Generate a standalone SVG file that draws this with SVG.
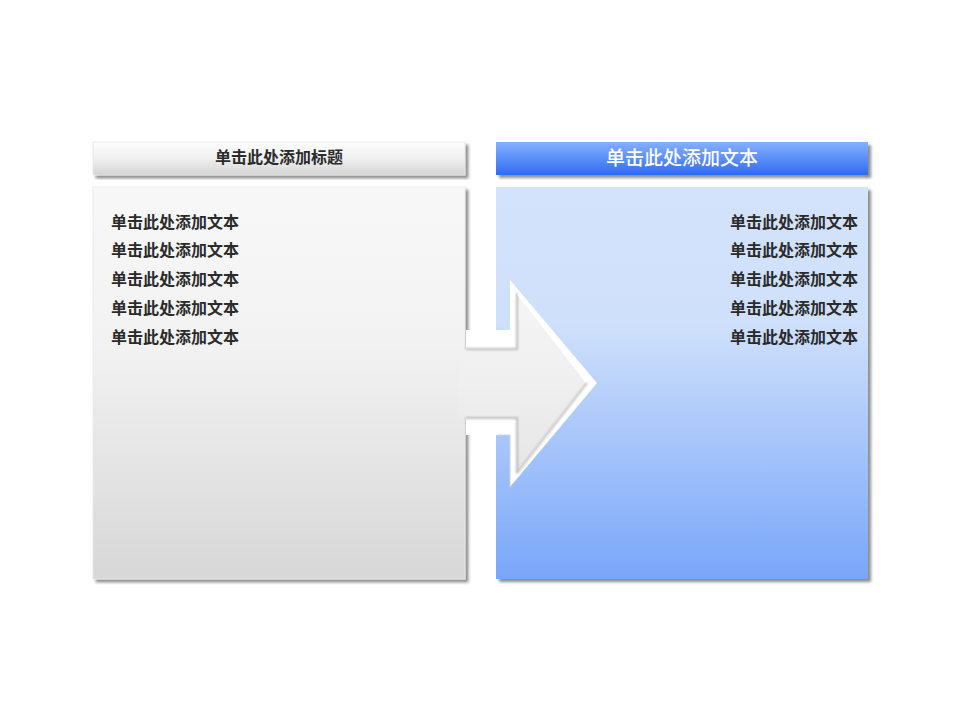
<svg xmlns="http://www.w3.org/2000/svg" width="960" height="720" viewBox="0 0 960 720">
<defs>
<linearGradient id="gHdrL" x1="0" y1="0" x2="0" y2="1"><stop offset="0" stop-color="#fdfdfd"/><stop offset="0.5" stop-color="#f0f0f0"/><stop offset="1" stop-color="#d4d4d4"/></linearGradient>
<linearGradient id="gHdrR" x1="0" y1="0" x2="0" y2="1"><stop offset="0" stop-color="#86b0ff"/><stop offset="0.5" stop-color="#5b8ff8"/><stop offset="1" stop-color="#2f6cf0"/></linearGradient>
<linearGradient id="gBodyL" x1="0" y1="187" x2="0" y2="579" gradientUnits="userSpaceOnUse"><stop offset="0" stop-color="#f8f8f8"/><stop offset="0.4" stop-color="#f2f2f2"/><stop offset="1" stop-color="#d7d7d7"/></linearGradient>
<linearGradient id="gBodyR" x1="0" y1="187" x2="0" y2="579" gradientUnits="userSpaceOnUse"><stop offset="0" stop-color="#d3e3fb"/><stop offset="0.35" stop-color="#cfe0fb"/><stop offset="1" stop-color="#79a6f9"/></linearGradient>
<linearGradient id="gArrow" x1="0" y1="283" x2="0" y2="485" gradientUnits="userSpaceOnUse"><stop offset="0" stop-color="#f6f6f6"/><stop offset="0.5" stop-color="#efefef"/><stop offset="1" stop-color="#e4e4e4"/></linearGradient>
<filter id="sh" x="-5%" y="-5%" width="115%" height="120%"><feGaussianBlur in="SourceAlpha" stdDeviation="1.5"/><feOffset dx="3" dy="3"/><feComponentTransfer><feFuncA type="linear" slope="0.45"/></feComponentTransfer><feMerge><feMergeNode/><feMergeNode in="SourceGraphic"/></feMerge></filter>
<filter id="ish" x="-10%" y="-10%" width="120%" height="120%"><feGaussianBlur stdDeviation="1"/></filter>
</defs>
<style>
.t{font-family:"Noto Sans CJK SC","Liberation Sans",sans-serif;font-size:16px;font-weight:bold;fill:#2b2b2b}
.h{font-family:"Noto Sans CJK SC","Liberation Sans",sans-serif;text-anchor:middle}
</style>
<rect width="960" height="720" fill="#ffffff"/>
<g id="left-header">
<rect x="93" y="142" width="372" height="33" fill="url(#gHdrL)" stroke="#e4e4e4" stroke-width="0.8" filter="url(#sh)"/>
<text class="h" x="279" y="163" font-size="16" font-weight="bold" fill="#2b2b2b">单击此处添加标题</text>
</g>
<g id="right-header">
<rect x="496" y="142" width="372" height="33" fill="url(#gHdrR)" filter="url(#sh)"/>
<text class="h" x="682" y="165" font-size="19" font-weight="500" fill="#ffffff">单击此处添加文本</text>
</g>
<g id="left-body">
<rect x="93" y="187" width="372" height="392" fill="url(#gBodyL)" stroke="#e6e6e6" stroke-width="0.8" filter="url(#sh)"/>
<text class="t" x="111" y="228">单击此处添加文本</text>
<text class="t" x="111" y="256">单击此处添加文本</text>
<text class="t" x="111" y="285">单击此处添加文本</text>
<text class="t" x="111" y="314">单击此处添加文本</text>
<text class="t" x="111" y="343">单击此处添加文本</text>
</g>
<g id="right-body">
<rect x="496" y="187" width="372" height="392" fill="url(#gBodyR)" filter="url(#sh)"/>
<g text-anchor="end">
<text class="t" x="858" y="228">单击此处添加文本</text>
<text class="t" x="858" y="256">单击此处添加文本</text>
<text class="t" x="858" y="285">单击此处添加文本</text>
<text class="t" x="858" y="314">单击此处添加文本</text>
<text class="t" x="858" y="343">单击此处添加文本</text>
</g>
</g>
<g id="connectors">
<g id="arrow">
<polygon points="466,330 510,330 510,280 597,383 510,487 510,435 466,435" fill="#ffffff"/>
<polyline points="510,330 510,281" fill="none" stroke="#9aa6b8" stroke-width="2" filter="url(#ish)"/>
<polyline points="498,331 510,331" fill="none" stroke="#9aa6b8" stroke-width="2" filter="url(#ish)"/>
<polyline points="510,486 510,435 498,435" fill="none" stroke="#c8d2e4" stroke-width="1"/>
<polygon points="458,349 517,349 517,293 587,383 517,473 517,418 458,418" fill="url(#gArrow)"/>
<polyline points="466,349 517,349 517,293" fill="none" stroke="#a8a8a8" stroke-width="1.5" filter="url(#ish)"/>
<polyline points="466,418 517,418 517,473" fill="none" stroke="#a8a8a8" stroke-width="1.5" filter="url(#ish)"/>
<polyline points="517,473 587,383" fill="none" stroke="#c0c0c0" stroke-width="2" filter="url(#ish)"/>
<polyline points="518,294 586,382" fill="none" stroke="#ffffff" stroke-width="1.5"/>
</g>
</g>
</svg>
